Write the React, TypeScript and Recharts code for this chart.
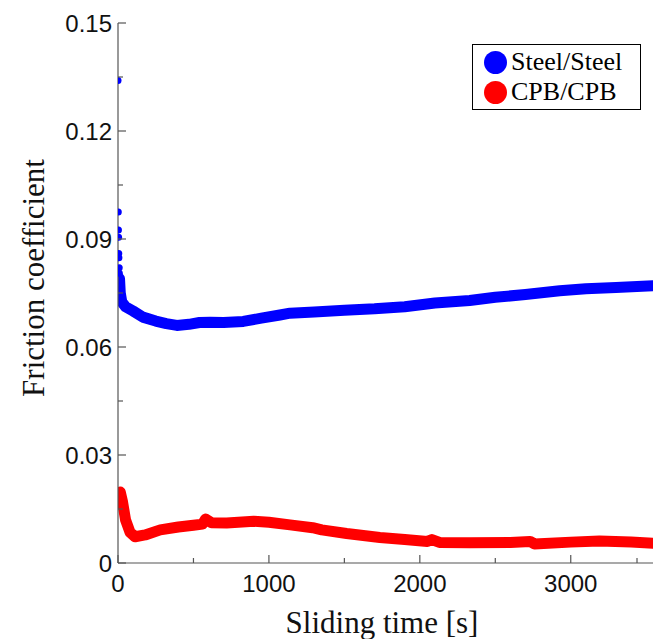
import { ComposedChart, Line, Scatter, XAxis, YAxis, Legend } from 'recharts';

// sliding time [s] and friction coefficient
const steelEarlyTime = [0, 2, 3, 4, 5, 6, 8, 9];
const steelEarlyMu = [0.134, 0.0975, 0.0925, 0.0905, 0.086, 0.0848, 0.082, 0.0805];

const steelTime = [10, 15, 25, 50, 100, 165, 250, 320, 390, 470, 540, 610, 700, 830, 950, 1073, 1140, 1300, 1500, 1700, 1900, 2100, 2330, 2500, 2700, 2927, 3100, 3300, 3545];
const steelMu = [0.079, 0.075, 0.0725, 0.0712, 0.07, 0.0683, 0.0672, 0.0665, 0.066, 0.0663, 0.0668, 0.0669, 0.0668, 0.0671, 0.068, 0.0689, 0.0694, 0.0697, 0.0702, 0.0706, 0.0712, 0.0722, 0.0729, 0.0738, 0.0746, 0.0756, 0.0762, 0.0765, 0.077];

const cpbTime = [0, 15, 30, 50, 80, 113, 180, 280, 400, 500, 560, 580, 620, 720, 900, 1000, 1140, 1290, 1350, 1515, 1735, 1900, 2050, 2080, 2130, 2330, 2600, 2730, 2760, 3000, 3190, 3400, 3545];
const cpbMu = [0.019, 0.0197, 0.017, 0.012, 0.0085, 0.0073, 0.0078, 0.0092, 0.01, 0.0105, 0.0108, 0.0122, 0.0112, 0.0111, 0.0116, 0.0113, 0.0106, 0.0098, 0.0092, 0.0082, 0.0071, 0.0065, 0.006, 0.0065, 0.0057, 0.0056, 0.0057, 0.006, 0.0053, 0.0058, 0.0061, 0.0058, 0.0055];

const seriesNames = ['Steel/Steel', 'CPB/CPB'];
const seriesColors = ['#0000ff', '#ff0000'];

const xTicks = [0, 500, 1000, 1500, 2000, 2500, 3000, 3500];
const xLabels = ['0', '', '1000', '', '2000', '', '3000', ''];
const yTicks = [0, 0.015, 0.03, 0.045, 0.06, 0.075, 0.09, 0.105, 0.12, 0.135, 0.15];
const yLabels = ['0', '', '0.03', '', '0.06', '', '0.09', '', '0.12', '', '0.15'];

const toRows = (t: number[], v: number[]) => t.map((x, i) => ({ t: x, mu: v[i] }));
const steelEarly = toRows(steelEarlyTime, steelEarlyMu);
const steel = toRows(steelTime, steelMu);
const cpb = toRows(cpbTime, cpbMu);

const W = 653;
const H = 639;
const LEFT = 118;
const TOP = 23;
const BOTTOM = 563;
const AXIS = '#555';
const sans = '"Liberation Sans", Arial, sans-serif';
const serif = '"Liberation Serif", "Times New Roman", serif';

const YTick = (props: any) => {
  const { y, index } = props;
  const label = yLabels[index];
  return (
    <g>
      <line x1={LEFT} x2={LEFT + (label ? 8 : 5)} y1={y} y2={y} stroke={AXIS} strokeWidth={1.2} />
      {label && (
        <text x={LEFT - 6} y={y} dy="0.36em" textAnchor="end" fontFamily={sans} fontSize={24} fill="#111">
          {label}
        </text>
      )}
    </g>
  );
};

const XTick = (props: any) => {
  const { x, index } = props;
  const label = xLabels[index];
  return (
    <g>
      <line x1={x} x2={x} y1={BOTTOM} y2={BOTTOM - (label ? 8 : 5)} stroke={AXIS} strokeWidth={1.2} />
      {label && (
        <text x={x} y={BOTTOM + 29} textAnchor="middle" fontFamily={sans} fontSize={24} fill="#111">
          {label}
        </text>
      )}
    </g>
  );
};

const TopTick = (props: any) => {
  const { x, index } = props;
  const label = xLabels[index];
  return <line x1={x} x2={x} y1={TOP} y2={TOP + (label ? 8 : 5)} stroke={AXIS} strokeWidth={1.2} />;
};

const LegendBox = () => (
  <div
    style={{
      border: '1px solid #000',
      background: '#fff',
      padding: '2px 18px 2px 11px',
      fontFamily: serif,
      fontSize: 26,
      color: '#000',
    }}
  >
    {seriesNames.map((name, i) => (
      <div key={name} style={{ display: 'flex', alignItems: 'center', height: 30 }}>
        <span
          style={{
            width: 23,
            height: 23,
            borderRadius: '50%',
            background: seriesColors[i],
            display: 'inline-block',
            marginRight: 4,
          }}
        />
        {name}
      </div>
    ))}
  </div>
);

export default function App() {
  return (
    <div style={{ position: 'absolute', left: 0, top: 0, width: W, height: H, background: '#fff' }}>
      <ComposedChart width={W} height={H} margin={{ top: TOP, right: 0, bottom: 36, left: 0 }}>
        <XAxis
          type="number"
          dataKey="t"
          domain={[0, 3545]}
          ticks={xTicks}
          tick={<XTick />}
          tickLine={false}
          axisLine={{ stroke: AXIS, strokeWidth: 1.2 }}
          height={40}
          allowDataOverflow
        />
        <XAxis
          xAxisId="top"
          orientation="top"
          type="number"
          dataKey="t"
          domain={[0, 3545]}
          ticks={xTicks}
          tick={<TopTick />}
          tickLine={false}
          axisLine={{ stroke: AXIS, strokeWidth: 1.2 }}
          height={0}
        />
        <YAxis
          type="number"
          dataKey="mu"
          domain={[0, 0.15]}
          ticks={yTicks}
          tick={<YTick />}
          tickLine={false}
          axisLine={{ stroke: AXIS, strokeWidth: 1.2 }}
          width={LEFT}
          label={{
            content: () => (
              <text
                x={44}
                y={278}
                transform="rotate(-90, 44, 278)"
                textAnchor="middle"
                fontFamily={serif}
                fontSize={31}
                fill="#111"
              >
                Friction coefficient
              </text>
            ),
          }}
        />
        <Line
          data={cpb}
          dataKey="mu"
          name={seriesNames[1]}
          stroke={seriesColors[1]}
          strokeWidth={11}
          strokeLinejoin="round"
          strokeLinecap="round"
          dot={false}
          isAnimationActive={false}
        />
        <Line
          data={steel}
          dataKey="mu"
          name={seriesNames[0]}
          stroke={seriesColors[0]}
          strokeWidth={11}
          strokeLinejoin="round"
          strokeLinecap="round"
          dot={false}
          isAnimationActive={false}
        />
        <Scatter
          data={steelEarly}
          dataKey="mu"
          fill={seriesColors[0]}
          legendType="none"
          shape={(p: any) => <circle cx={p.cx} cy={p.cy} r={3.5} fill={seriesColors[0]} />}
          isAnimationActive={false}
        />
        <Legend
          layout="vertical"
          align="center"
          verticalAlign="middle"
          content={<LegendBox />}
          wrapperStyle={{ top: 44, left: 472, width: 'auto', height: 'auto' }}
        />
        <text x={382} y={633} textAnchor="middle" fontFamily={serif} fontSize={31} fill="#111">
          Sliding time [s]
        </text>
      </ComposedChart>
    </div>
  );
}
